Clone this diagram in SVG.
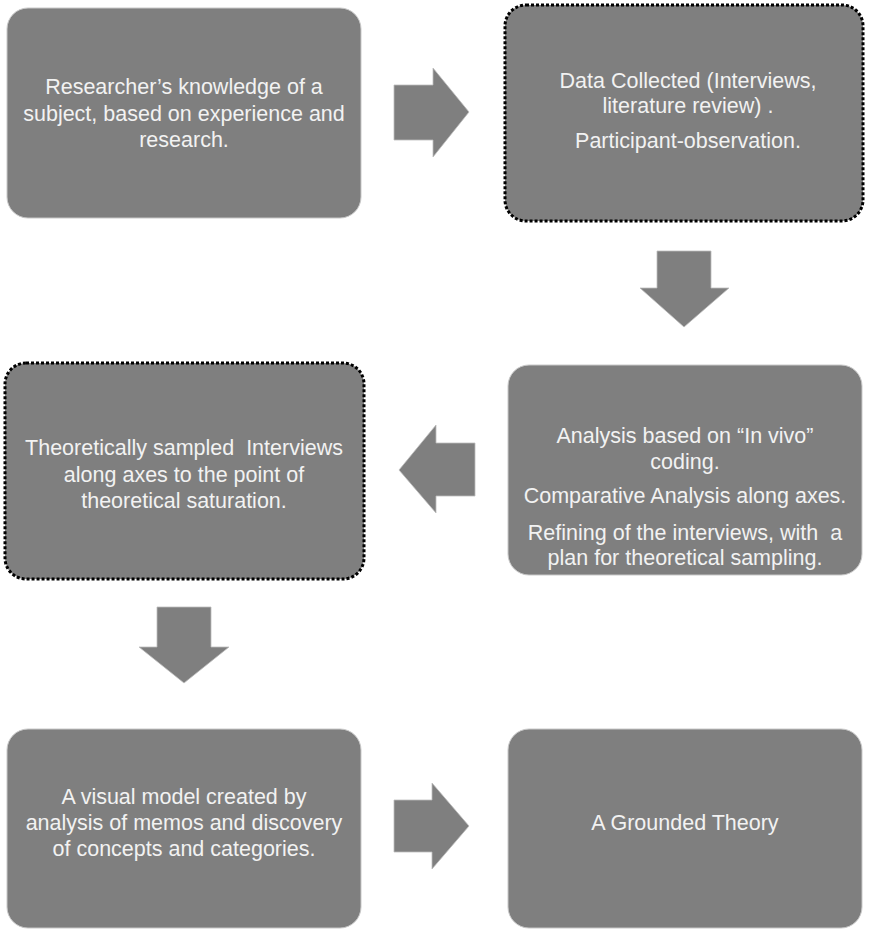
<svg xmlns="http://www.w3.org/2000/svg" width="871" height="930" viewBox="0 0 871 930">
<style>
.box{fill:#7f7f7f;stroke:#c9c9c9;stroke-width:1}
.dot{fill:#7f7f7f;stroke:#000;stroke-width:3;stroke-dasharray:3 2}
.arr{fill:#7f7f7f;stroke:#bdbdbd;stroke-width:0.8}
text{font-family:"Liberation Sans",Arial,sans-serif;font-size:21.5px;fill:#f2f2f2;text-anchor:middle;white-space:pre}
</style>
<rect width="871" height="930" fill="#fff"/>
<g id="n1"><rect class="box" x="7" y="8" width="354" height="210" rx="21"/>
<text x="184" y="94">Researcher’s knowledge of a</text>
<text x="184" y="121">subject, based on experience and</text>
<text x="184" y="147">research.</text></g>
<g id="n2"><rect class="dot" x="505" y="5" width="358" height="216" rx="21"/>
<text x="688" y="88">Data Collected (Interviews,</text>
<text x="688" y="113">literature review) .</text>
<text x="688" y="148">Participant-observation.</text></g>
<g id="n3"><rect class="box" x="508" y="365" width="354" height="210" rx="21"/>
<text x="685" y="443">Analysis based on “In vivo”</text>
<text x="685" y="469">coding.</text>
<text x="685" y="503">Comparative Analysis along axes.</text>
<text x="685" y="540">Refining of the interviews, with  a</text>
<text x="685" y="565">plan for theoretical sampling.</text></g>
<g id="n4"><rect class="dot" x="5" y="363" width="359" height="216" rx="21"/>
<text x="184" y="455">Theoretically sampled  Interviews</text>
<text x="184" y="482">along axes to the point of</text>
<text x="184" y="508">theoretical saturation.</text></g>
<g id="n5"><rect class="box" x="7" y="729" width="354" height="199" rx="21"/>
<text x="184" y="804">A visual model created by</text>
<text x="184" y="830">analysis of memos and discovery</text>
<text x="184" y="856">of concepts and categories.</text></g>
<g id="n6"><rect class="box" x="508" y="729" width="354" height="199" rx="21"/>
<text x="685" y="830">A Grounded Theory</text></g>
<g id="connectors">
<polygon class="arr" points="394,85 433,85 433,68 469,112 433,157 433,140 394,140"/>
<polygon class="arr" points="657,251 711,251 711,288 729,288 684,327 640,288 657,288"/>
<polygon class="arr" points="475,443 436,443 436,425 399,470 436,513 436,496 475,496"/>
<polygon class="arr" points="157,607 211,607 211,647 229,647 184,683 139,647 157,647"/>
<polygon class="arr" points="394,800 432,800 432,783 469,826 432,869 432,852 394,852"/>
</g>
</svg>
